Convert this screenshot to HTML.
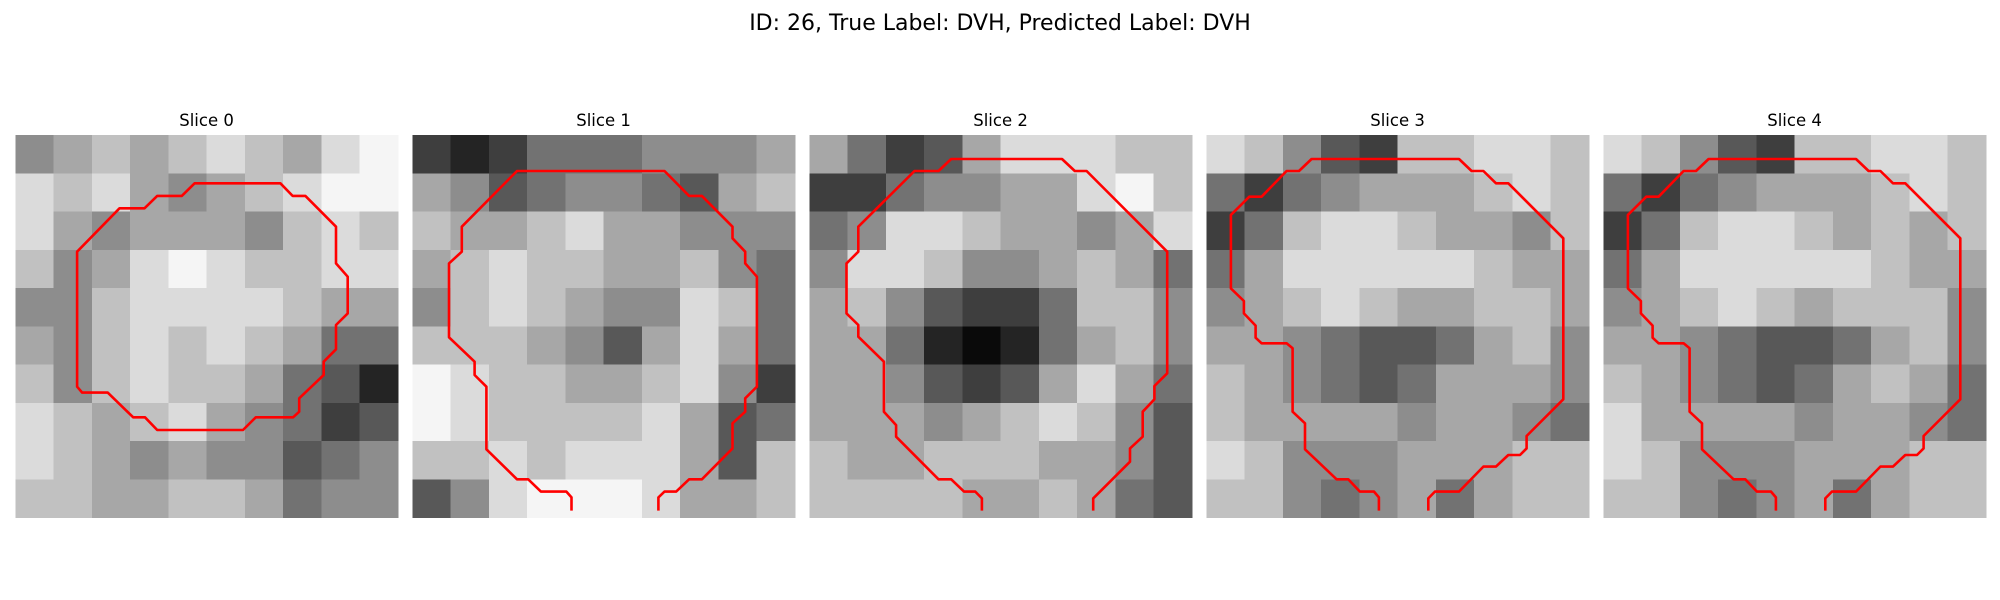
<!DOCTYPE html>
<html><head><meta charset="utf-8"><style>
html,body{margin:0;padding:0;background:#fff;}
svg{display:block;font-family:"DejaVu Sans","Liberation Sans",sans-serif;}
</style></head><body>
<svg id="fig" width="2000" height="600" viewBox="0 0 2000 600" xmlns="http://www.w3.org/2000/svg">
<text x="1000" y="30" text-anchor="middle" font-size="22" fill="#000">ID: 26, True Label: DVH, Predicted Label: DVH</text>
<g id="panels"></g>
</svg>
<script>
// slice titles
const sliceTitles = ["Slice 0","Slice 1","Slice 2","Slice 3","Slice 4"];
// coarse 10x10 grayscale intensity (0=black, 9=white) per slice
const slice0 = [[5,6,7,6,7,8,7,6,8,9],[8,7,8,6,5,6,7,8,9,9],[8,6,5,6,6,6,5,7,8,7],[7,5,6,8,9,8,7,7,8,8],[5,5,7,8,8,8,8,7,6,6],[6,5,7,8,7,8,7,6,4,4],[7,5,7,8,7,7,6,4,3,1],[8,7,6,7,8,6,5,4,2,3],[8,7,6,5,6,5,5,3,4,5],[7,7,6,6,7,7,6,4,5,5]];
const slice1 = [[2,1,2,4,4,4,5,5,5,6],[6,5,3,4,5,5,4,3,6,7],[7,6,6,7,8,6,6,5,5,5],[6,7,8,7,7,6,6,7,5,4],[5,7,8,7,6,5,5,8,7,4],[7,7,7,6,5,3,6,8,6,4],[9,8,7,7,6,6,7,8,5,2],[9,8,7,7,7,7,8,6,3,4],[7,7,8,7,8,8,8,6,3,7],[3,5,8,9,9,9,8,6,6,7]];
const slice2 = [[6,4,2,3,6,8,8,8,7,7],[2,2,4,5,5,6,6,8,9,7],[4,5,8,8,7,6,6,5,6,8],[5,8,8,7,5,5,6,7,6,4],[6,7,5,3,2,2,4,7,7,5],[6,6,4,1,0,1,4,6,7,5],[6,6,5,3,2,3,6,8,6,4],[6,6,6,5,6,7,8,7,5,3],[7,6,6,7,7,7,6,6,5,3],[7,7,7,7,6,6,7,6,4,3]];
const slice3 = [[8,7,5,3,2,7,7,8,8,7],[4,2,4,5,6,6,6,7,8,7],[2,4,7,8,8,7,6,6,5,7],[4,6,8,8,8,8,8,7,6,6],[5,6,7,8,7,6,6,7,7,6],[6,6,5,4,3,3,4,6,7,5],[7,6,5,4,3,4,6,6,6,5],[7,6,6,6,6,5,6,6,5,4],[8,7,5,5,5,6,6,6,7,7],[7,7,5,4,5,6,4,6,7,7]];
const slice4 = [[8,7,5,3,2,7,7,8,8,7],[4,2,4,5,6,6,6,7,8,7],[2,4,7,8,8,7,6,7,6,7],[4,6,8,8,8,8,8,7,6,6],[5,6,7,8,7,6,7,7,7,5],[6,6,5,4,3,3,4,6,7,5],[7,6,5,4,3,4,6,7,6,4],[8,6,6,6,6,5,6,6,5,4],[8,7,5,5,5,6,6,6,7,7],[7,7,5,4,5,6,4,6,7,7]];
// contours in image grid units (0..30)
const contour0x = [4.85,8.17,10.13,11.13,13.06,14.06,20.79,21.75,22.75,25.15,25.15,26.07,26.07,25.15,25.15,24.19,24.19,22.27,22.27,21.79,18.86,17.86,11.13,10.17,9.25,7.25,5.25,4.85,4.85];
const contour0y = [9.15,5.75,5.75,4.78,4.78,3.79,3.79,4.78,4.78,7.19,10.07,11.11,13.99,14.9,16.81,17.78,18.82,20.65,21.7,22.14,22.14,23.14,23.14,22.14,22.14,20.2,20.2,19.74,9.15];
const contour1x = [12.49,12.49,12.09,10.09,9.09,8.21,5.81,5.81,4.89,4.89,2.88,2.88,3.88,3.88,8.21,19.78,21.71,22.71,25.11,25.11,26.11,26.11,27.03,27.03,26.11,26.11,25.11,25.11,22.71,21.71,20.7,19.78,19.3,19.3];
const contour1y = [29.46,28.42,27.97,27.97,27.0,27.0,24.65,19.74,18.82,17.78,15.87,10.07,9.15,7.19,2.82,2.82,4.78,4.78,7.19,8.1,9.15,10.07,11.11,19.74,20.65,21.7,22.61,24.58,27.0,27.0,27.97,27.97,28.42,29.46];
const contour2x = [13.54,13.54,13.02,12.13,11.13,10.13,6.81,6.81,5.85,5.85,3.84,3.84,2.92,2.92,3.84,3.84,8.25,10.13,11.13,19.82,20.82,21.75,28.07,28.07,27.07,27.07,26.15,26.15,25.15,25.15,22.27,22.27];
const contour2y = [29.46,28.5,27.97,27.97,27.0,27.0,23.66,22.75,21.7,17.78,15.82,14.9,13.99,10.07,9.15,7.19,2.82,2.82,1.88,1.88,2.82,2.82,9.15,18.69,19.69,20.73,21.7,23.66,24.58,25.62,28.5,29.46];
const contour3x = [13.54,13.54,13.15,12.05,11.14,10.22,7.74,7.74,6.77,6.77,6.30,4.34,3.87,3.87,2.95,2.95,1.93,1.93,3.37,4.34,6.30,7.27,8.26,19.82,20.81,21.73,22.72,23.69,28.0,28.0,25.12,25.12,24.6,23.69,22.72,21.73,19.82,17.93,17.41,17.41];
const contour3y = [29.46,28.42,27.97,27.97,27.0,27.0,24.65,22.61,21.7,16.73,16.34,16.34,15.9,14.95,13.99,13.02,12.03,6.27,4.84,4.84,2.82,2.82,1.88,1.88,2.82,2.82,3.79,3.79,8.1,20.73,23.61,24.58,25.1,25.1,26.01,26.01,27.97,27.97,28.5,29.46];
const contour4x = contour3x;
const contour4y = contour3y;
const closed = [true,false,false,false,false];

const slices = [slice0,slice1,slice2,slice3,slice4];
const cxs = [contour0x,contour1x,contour2x,contour3x,contour4x];
const cys = [contour0y,contour1y,contour2y,contour3y,contour4y];

const NS = "http://www.w3.org/2000/svg";
const panelsG = document.getElementById('panels');
const panelLeft0 = 15.3, panelStep = 397, panelTop = 135, panelSize = 382.5, gridN = 30;

slices.forEach((grid, k) => {
  const left = panelLeft0 + k * panelStep;
  const sx = g => left + g / gridN * panelSize;
  const sy = g => panelTop + g / gridN * panelSize;
  const g = document.createElementNS(NS, 'g');
  
  
  const t = document.createElementNS(NS, 'text');
  
  
  t.setAttribute('x', left + panelSize / 2);
  t.setAttribute('y', 126);
  t.setAttribute('text-anchor', 'middle');
  t.setAttribute('font-size', '16.5');
  t.textContent = sliceTitles[k];
  g.appendChild(t);
  const rows = grid.length, cols = grid[0].length;
  const img = document.createElementNS(NS, 'g');
  
  
  img.setAttribute('shape-rendering', 'crispEdges');
  for (let r = 0; r < rows; r++) for (let c = 0; c < cols; c++) {
    const v = Math.round(grid[r][c] / 9 * 235 + 10);
    const rect = document.createElementNS(NS, 'rect');
    
    
    const x0 = sx(c * gridN / cols), x1 = sx((c + 1) * gridN / cols);
    const y0 = sy(r * gridN / rows), y1 = sy((r + 1) * gridN / rows);
    rect.setAttribute('x', x0); rect.setAttribute('y', y0);
    rect.setAttribute('width', x1 - x0 + 0.5); rect.setAttribute('height', y1 - y0 + 0.5);
    rect.setAttribute('fill', `rgb(${v},${v},${v})`);
    img.appendChild(rect);
  }
  g.appendChild(img);
  const pts = cxs[k].map((x, i) => sx(x).toFixed(1) + ',' + sy(cys[k][i]).toFixed(1)).join(' ');
  const line = document.createElementNS(NS, closed[k] ? 'polygon' : 'polyline');
  
  
  line.setAttribute('points', pts);
  line.setAttribute('fill', 'none');
  line.setAttribute('stroke', '#ff0000');
  line.setAttribute('stroke-width', '2.6');
  line.setAttribute('stroke-linejoin', 'round');
  g.appendChild(line);
  panelsG.appendChild(g);
});
</script>
</body></html>
